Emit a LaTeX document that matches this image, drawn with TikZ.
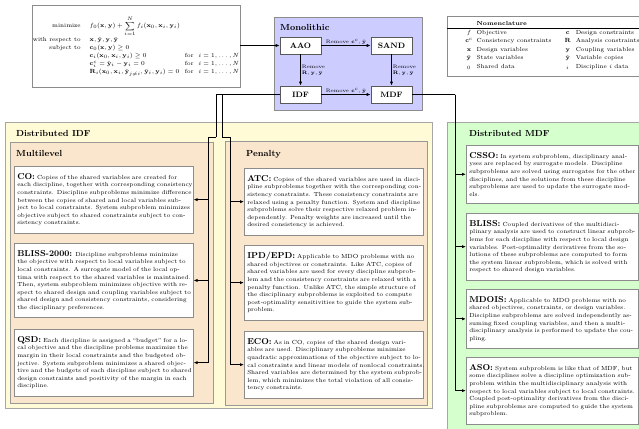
\documentclass[tikz,border=0pt]{standalone}
\usepackage{amsmath}
\usetikzlibrary{arrows.meta}
\definecolor{monofill}{RGB}{204,204,255}
\definecolor{idffill}{RGB}{255,251,214}
\definecolor{subfill}{RGB}{250,229,205}
\definecolor{mdffill}{RGB}{214,255,206}
\newcommand\jline[1]{\hbox to\hsize{#1}}
\newcommand\eline[1]{\hbox to\hsize{#1\hfil}}
\newcommand\head[1]{{\fontsize{8.6}{9}\selectfont\bfseries #1}}
\begin{document}
\begin{tikzpicture}[x=1pt,y=-1pt,
  conn/.style={line width=0.9pt,-{Latex[length=4pt,width=3.2pt]}},
  plainline/.style={line width=0.9pt},
  titletext/.style={font=\fontsize{8.8}{10}\selectfont\bfseries,inner sep=0pt,anchor=west},
  stagebox/.style={draw=black!65,fill=white,line width=0.6pt,minimum width=41pt,minimum height=17pt,inner sep=0pt,font=\fontsize{7.8}{9}\selectfont\bfseries},
  lbl/.style={font=\fontsize{5}{6}\selectfont,inner sep=1pt},
  textbox/.style={draw=black!45,fill=white,line width=0.5pt,anchor=north west,font=\fontsize{5.9}{7.6}\selectfont,inner xsep=3pt,inner ysep=7pt},
  idfbox/.style={textbox,text width=173pt},
  mdfbox/.style={textbox,text width=166pt}
]
\useasboundingbox (0,0) rectangle (639,428);
% frames
\draw[draw=black!35,fill=idffill,line width=0.6pt] (5,122) rectangle (432,408);
\draw[draw=black!40,fill=subfill,line width=0.6pt] (10,142) rectangle (213,403);
\draw[draw=black!40,fill=subfill,line width=0.6pt] (225,141) rectangle (427,405);
\draw[draw=black!35,fill=mdffill,line width=0.6pt] (447,122) rectangle (660,450);
\draw[draw=black!45,fill=monofill,line width=0.6pt] (274,17) rectangle (422,110);
% titles
\node[titletext] (tIDF) at (16,133) {Distributed IDF};
\node[titletext] (tML) at (16,153) {Multilevel};
\node[titletext] (tPN) at (246,154) {Penalty};
\node[titletext] (tMDF) at (469,133) {Distributed MDF};
\node[titletext] (tMono) at (280,27) {Monolithic};
% problem statement
\node[draw=black!45,fill=white,line width=0.5pt,minimum width=208pt,minimum height=82pt,inner sep=0pt,font=\fontsize{5.9}{8}\selectfont] (prob) at (136,46) {%
$\begin{array}{@{}r@{\hspace{9pt}}l@{\hspace{5pt}}l@{}}
\text{minimize} & f_0(\mathbf{x},\mathbf{y})+\displaystyle\sum_{i=1}^{N} f_i(\mathbf{x}_0,\mathbf{x}_i,\mathbf{y}_i) & \\
\text{with respect to} & \mathbf{x},\hat{\mathbf{y}},\mathbf{y},\bar{\mathbf{y}} & \\
\text{subject to} & \mathbf{c}_0(\mathbf{x},\mathbf{y})\ge 0 & \\
 & \mathbf{c}_i(\mathbf{x}_0,\mathbf{x}_i,\mathbf{y}_i)\ge 0 & \text{for}\hspace{5pt} i=1,\ldots,N\\
 & \mathbf{c}^c_i=\hat{\mathbf{y}}_i-\mathbf{y}_i=0 & \text{for}\hspace{5pt} i=1,\ldots,N\\
 & \mathbf{R}_i(\mathbf{x}_0,\mathbf{x}_i,\hat{\mathbf{y}}_{j\ne i},\bar{\mathbf{y}}_i,\mathbf{y}_i)=0 & \text{for}\hspace{5pt} i=1,\ldots,N
\end{array}$};
% nomenclature
\node[draw=black!45,fill=white,line width=0.5pt,inner sep=0pt,anchor=north west,font=\fontsize{5.9}{8.4}\selectfont] (nom) at (447,16) {%
\begin{tabular}{@{\hspace{18pt}}c@{\hspace{4pt}}p{88pt}@{}c@{\hspace{5pt}}p{64pt}@{\hspace{2pt}}}
\rule{0pt}{9.5pt} & \textbf{Nomenclature} & & \\ \hline
$f$ & Objective & $\mathbf{c}$ & Design constraints\\
$\mathbf{c}^c$ & Consistency constraints & $\mathbf{R}$ & Analysis constraints\\
$\mathbf{x}$ & Design variables & $\mathbf{y}$ & Coupling variables\\
$\bar{\mathbf{y}}$ & State variables & $\hat{\mathbf{y}}$ & Variable copies\\
${}_0$ & Shared data & ${}_i$ & Discipline $i$ data\rule[-8pt]{0pt}{8pt}
\end{tabular}};
% monolithic
\node[stagebox] (AAO) at (300.5,45.5) {AAO};
\node[stagebox] (SAND) at (391.5,45.5) {SAND};
\node[stagebox] (IDF) at (300.5,94.5) {IDF};
\node[stagebox] (MDF) at (391.5,94.5) {MDF};
\draw[conn] (AAO) -- node[lbl,above] {Remove $\mathbf{c}^c,\hat{\mathbf{y}}$} (SAND);
\draw[conn] (IDF) -- node[lbl,above] {Remove $\mathbf{c}^c,\hat{\mathbf{y}}$} (MDF);
\draw[conn] (AAO) -- node[lbl,right,align=left] {Remove\\$\mathbf{R},\mathbf{y},\bar{\mathbf{y}}$} (IDF);
\draw[conn] (SAND) -- node[lbl,right,align=left] {Remove\\$\mathbf{R},\mathbf{y},\bar{\mathbf{y}}$} (MDF);
\draw[conn] (prob.east |- AAO.west) -- (AAO.west);
% multilevel
\node[idfbox] (CO) at (14,166) {%
\jline{\head{CO:} Copies of the shared variables are created for}
\jline{each discipline, together with corresponding consistency}
\jline{constraints. Discipline subproblems minimize difference}
\jline{between the copies of shared and local variables sub-}
\jline{ject to local constraints. System subproblem minimizes}
\jline{objective subject to shared constraints subject to con-}
\eline{sistency constraints.}};
\node[idfbox] (B2K) at (14,243) {%
\jline{\head{BLISS-2000:} Discipline subproblems minimize}
\jline{the objective with respect to local variables subject to}
\jline{local constraints. A surrogate model of the local op-}
\jline{tima with respect to the shared variables is maintained.}
\jline{Then, system subproblem minimizes objective with re-}
\jline{spect to shared design and coupling variables subject to}
\jline{shared design and consistency constraints, considering}
\eline{the disciplinary preferences.}};
\node[idfbox] (QSD) at (14,329) {%
\jline{\head{QSD:} Each discipline is assigned a “budget” for a lo-}
\jline{cal objective and the discipline problems maximize the}
\jline{margin in their local constraints and the budgeted ob-}
\jline{jective. System subproblem minimizes a shared objec-}
\jline{tive and the budgets of each discipline subject to shared}
\jline{design constraints and positivity of the margin in each}
\eline{discipline.}};
% penalty
\node[idfbox] (ATC) at (244,168) {%
\jline{\head{ATC:} Copies of the shared variables are used in disci-}
\jline{pline subproblems together with the corresponding con-}
\jline{sistency constraints. These consistency constraints are}
\jline{relaxed using a penalty function. System and discipline}
\jline{subproblems solve their respective relaxed problem in-}
\jline{dependently. Penalty weights are increased until the}
\eline{desired consistency is achieved.}};
\node[idfbox] (IPD) at (244,245) {%
\jline{\head{IPD/EPD:} Applicable to MDO problems with no}
\jline{shared objectives or constraints. Like ATC, copies of}
\jline{shared variables are used for every discipline subprob-}
\jline{lem and the consistency constraints are relaxed with a}
\jline{penalty function. Unlike ATC, the simple structure of}
\jline{the disciplinary subproblems is exploited to compute}
\jline{post-optimality sensitivities to guide the system sub-}
\eline{problem.}};
\node[idfbox] (ECO) at (244,331) {%
\jline{\head{ECO:} As in CO, copies of the shared design vari-}
\jline{ables are used. Disciplinary subproblems minimize}
\jline{quadratic approximations of the objective subject to lo-}
\jline{cal constraints and linear models of nonlocal constraints.}
\jline{Shared variables are determined by the system subprob-}
\jline{lem, which minimizes the total violation of all consis-}
\eline{tency constraints.}};
% distributed MDF
\node[mdfbox] (CSSO) at (466,145) {%
\jline{\head{CSSO:} In system subproblem, disciplinary anal-}
\jline{yses are replaced by surrogate models. Discipline}
\jline{subproblems are solved using surrogates for the other}
\jline{disciplines, and the solutions from these discipline}
\jline{subproblems are used to update the surrogate mod-}
\eline{els.}};
\node[mdfbox] (BLISS) at (466,213) {%
\jline{\head{BLISS:} Coupled derivatives of the multidisci-}
\jline{plinary analysis are used to construct linear subprob-}
\jline{lems for each discipline with respect to local design}
\jline{variables. Post-optimality derivatives from the so-}
\jline{lutions of these subproblems are computed to form}
\jline{the system linear subproblem, which is solved with}
\eline{respect to shared design variables.}};
\node[mdfbox] (MDOIS) at (466,289) {%
\jline{\head{MDOIS:} Applicable to MDO problems with no}
\jline{shared objectives, constraints, or design variables.}
\jline{Discipline subproblems are solved independently as-}
\jline{suming fixed coupling variables, and then a multi-}
\jline{disciplinary analysis is performed to update the cou-}
\eline{pling.}};
\node[mdfbox] (ASO) at (466,357) {%
\jline{\head{ASO:} System subproblem is like that of MDF, but}
\jline{some disciplines solve a discipline optimization sub-}
\jline{problem within the multidisciplinary analysis with}
\jline{respect to local variables subject to local constraints.}
\jline{Coupled post-optimality derivatives from the disci-}
\jline{pline subproblems are computed to guide the system}
\eline{subproblem.}};
% connectors from IDF
\coordinate (jA) at (216,137);
\coordinate (jB) at (222,137);
\coordinate (mlI) at (208,137);
\coordinate (pnI) at (230,137);
\draw[plainline] (IDF.west) -| (jA);
\draw[plainline] (IDF.west) -| (jB);
\draw[conn] (jA) -- (mlI) |- (CO.east);
\draw[conn] (mlI) |- (B2K.east);
\draw[conn] (mlI) |- (QSD.east);
\draw[conn] (jB) -- (pnI) |- (ATC.west);
\draw[conn] (pnI) |- (IPD.west);
\draw[conn] (pnI) |- (ECO.west);
% connectors from MDF
\coordinate (jM) at (455,94.5);
\draw[plainline] (MDF.east) -- (jM);
\draw[conn] (jM) |- (CSSO.west);
\draw[conn] (jM) |- (BLISS.west);
\draw[conn] (jM) |- (MDOIS.west);
\draw[conn] (jM) |- (ASO.west);
\end{tikzpicture}
\end{document}
